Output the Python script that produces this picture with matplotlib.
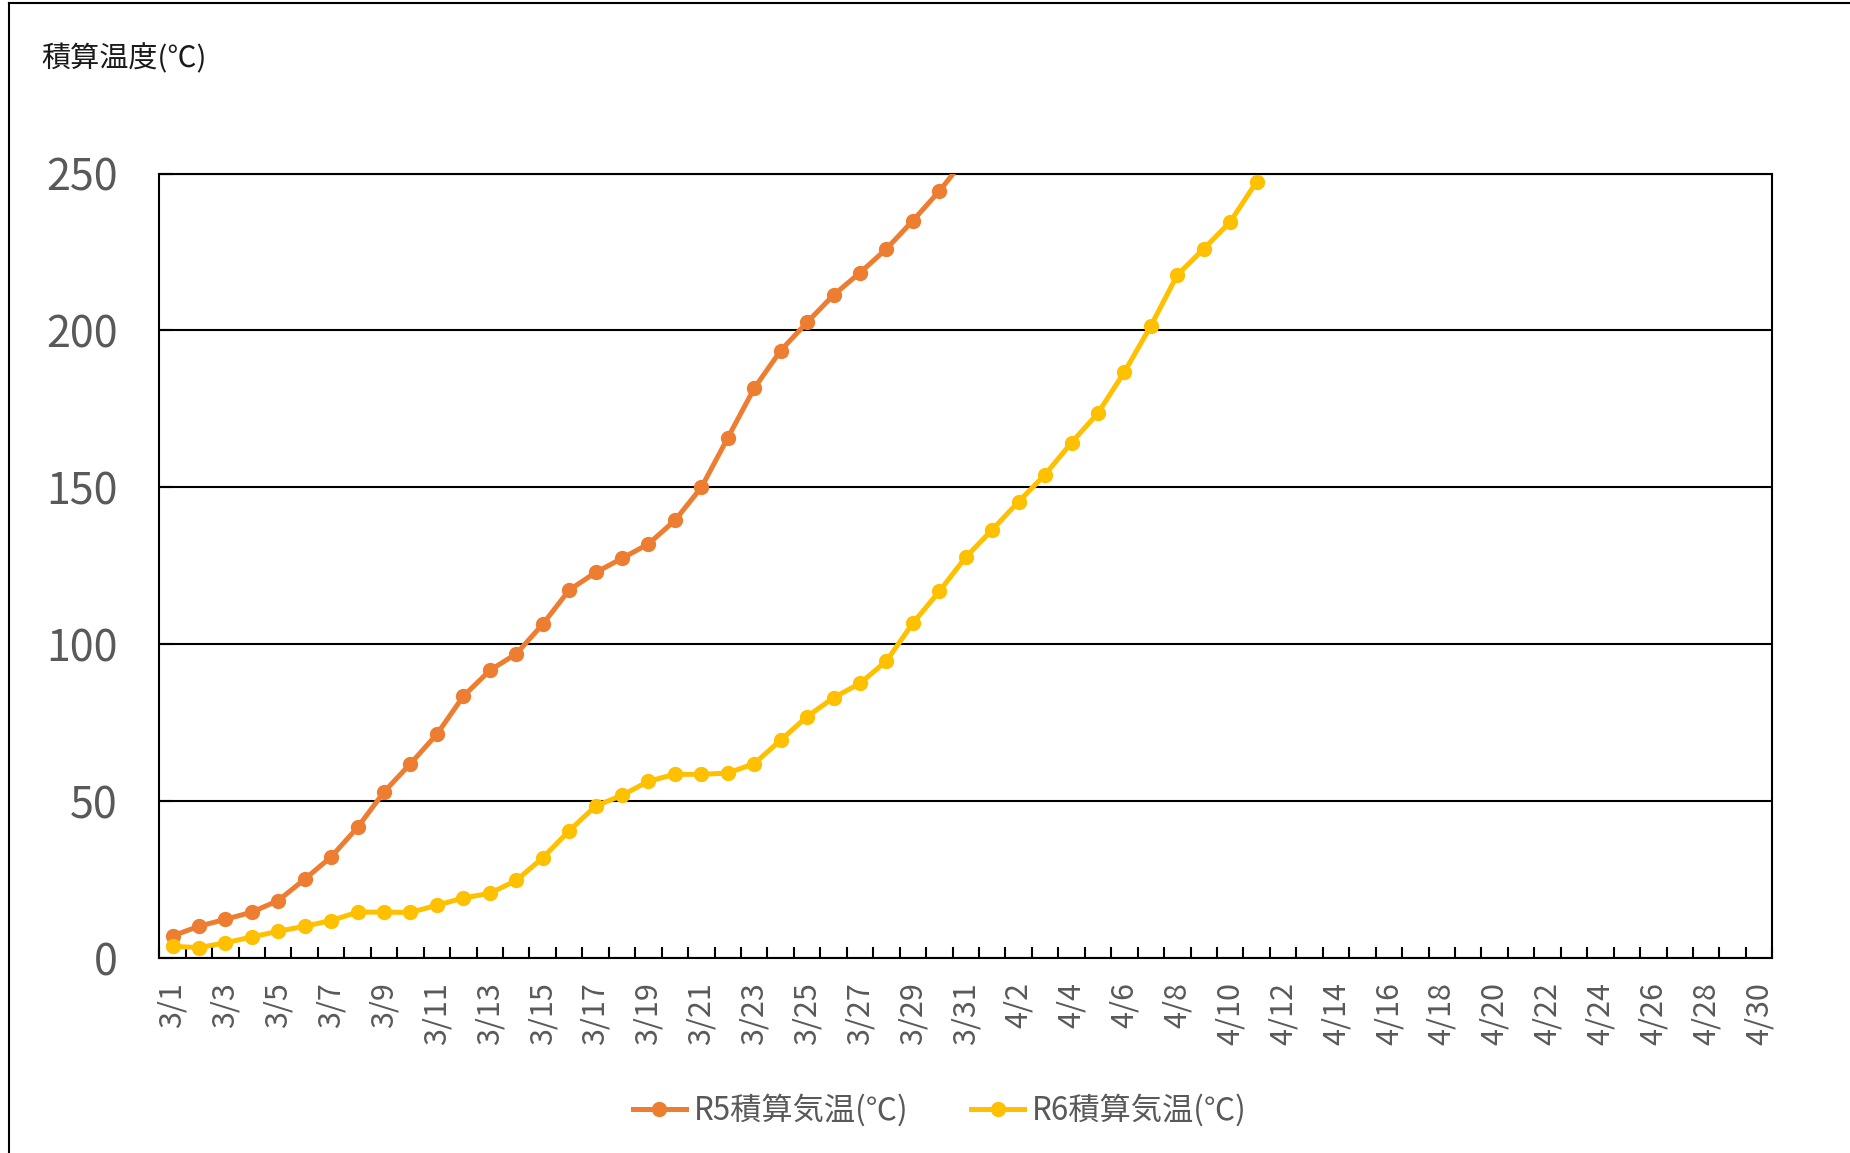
import numpy as np
import matplotlib
matplotlib.use('Agg')
import matplotlib.pyplot as plt
from matplotlib.lines import Line2D

plt.rcParams['font.family'] = ['Noto Sans CJK JP', 'DejaVu Sans']

# 日付ラベル 3/1〜4/30
dates = [f'3/{d}' for d in range(1, 32)] + [f'4/{d}' for d in range(1, 31)]

# R5 積算気温 (3/1〜3/31)
r5 = [7.1, 10.2, 12.4, 14.7, 18.4, 25.2, 32.3, 41.7, 53.0, 62.0,
      71.4, 83.5, 91.7, 97.0, 106.4, 117.3, 122.9, 127.4, 132.0, 139.5,
      150.0, 165.8, 181.6, 193.6, 202.6, 211.3, 218.4, 226.0, 235.0, 244.4,
      255.0]
# R6 積算気温 (3/1〜4/11)
r6 = [3.8, 3.4, 4.9, 6.8, 8.6, 10.2, 12.0, 14.7, 14.7, 14.6,
      16.9, 19.2, 20.7, 24.8, 32.0, 40.6, 48.5, 51.9, 56.4, 58.6,
      58.6, 59.0, 62.0, 69.5, 77.0, 83.0, 87.6, 94.7, 106.8, 116.9,
      127.8, 136.5, 145.5, 154.1, 164.3, 173.7, 186.8, 201.5, 217.7, 226.0,
      234.6, 247.4]

label_r5 = 'R5積算気温(℃)'
label_r6 = 'R6積算気温(℃)'
gray = '#595959'

fig = plt.figure(figsize=(18.5, 11.53), dpi=100)
ax = fig.add_axes([0.0861, 0.1689, 0.8719, 0.6806])

x = np.arange(len(dates))
ax.plot(x[:len(r5)], r5, '-o', color='#ED7D31', lw=3.6, markersize=10,
        label=label_r5, zorder=3)
ax.plot(x[:len(r6)], r6, '-o', color='#FFC000', lw=3.6, markersize=10,
        label=label_r6, zorder=3)

ax.set_xlim(-0.5, len(dates) - 0.5)
ax.set_ylim(0, 250)
ax.set_yticks([0, 50, 100, 150, 200, 250])
ax.yaxis.grid(True, color='black', lw=1.5)
ax.set_axisbelow(True)

# ラベルは1日おき、目盛り線は日ごとの境界
ax.set_xticks(x[::2])
ax.set_xticklabels(dates[::2], rotation=90)
ax.set_xticks(np.arange(-0.5, len(dates), 1), minor=True)
ax.tick_params(axis='x', which='major', length=0, pad=17, labelsize=22,
               labelcolor=gray)
ax.tick_params(axis='x', which='minor', direction='in', length=8,
               width=1.5, color='black')
ax.tick_params(axis='y', direction='in', length=10, width=1.5,
               pad=30, labelsize=31, labelcolor=gray)
for s in ax.spines.values():
    s.set_color('black')
    s.set_linewidth(1.5)

fig.text(0.0223, 0.949, '積算温度(℃)', fontsize=21, ha='left', va='center',
         color='#1a1a1a')

fig.legend(loc='center', bbox_to_anchor=(0.508, 0.037), ncol=2,
           frameon=False, fontsize=22.5, labelcolor=gray,
           handlelength=1.7, handletextpad=0.25, columnspacing=2.0)

# 外枠（左と上のみ見える）
fig.add_artist(Line2D([0.005, 0.005], [0, 0.997], color='black', lw=1.5))
fig.add_artist(Line2D([0.005, 1.0], [0.997, 0.997], color='black', lw=1.5))

fig.savefig('out.png', dpi=100, facecolor='white')
